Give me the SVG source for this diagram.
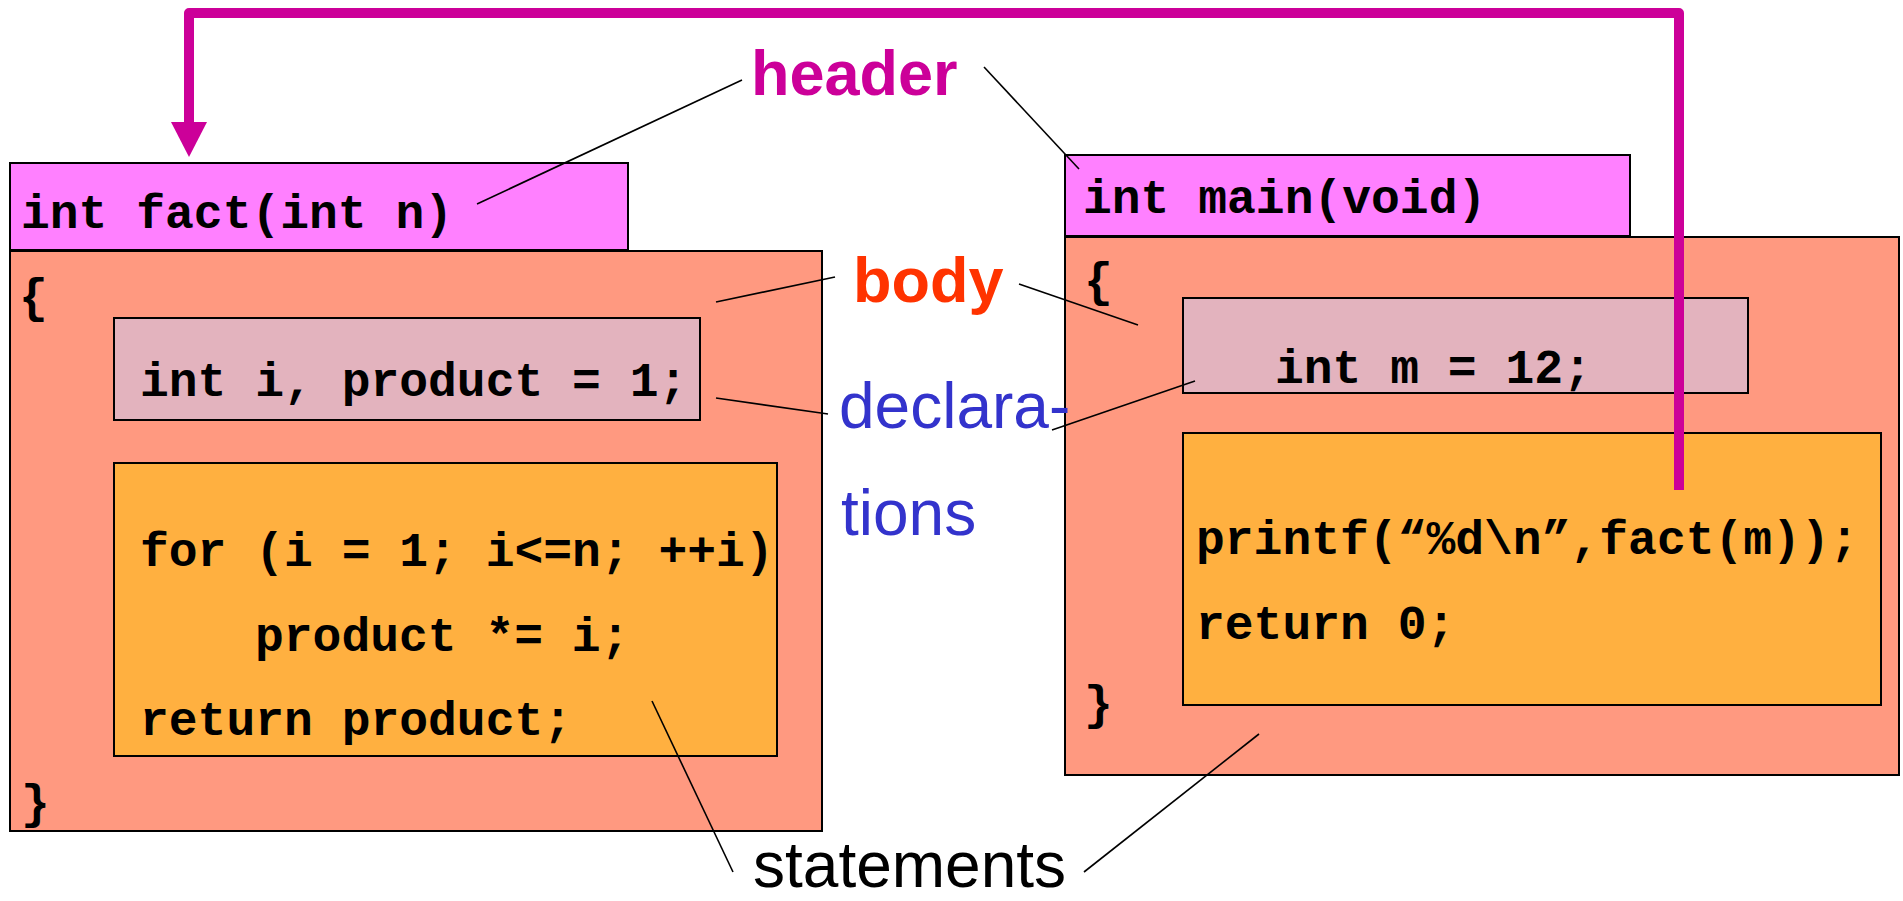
<svg xmlns="http://www.w3.org/2000/svg" width="1903" height="901" viewBox="0 0 1903 901">
  <style>
    .hdr { fill: #FF80FF; stroke: #000; stroke-width: 2; }
    .body { fill: #FF9980; stroke: #000; stroke-width: 2; }
    .decl { fill: #E3B3BE; stroke: #000; stroke-width: 2; }
    .stmt { fill: #FFB040; stroke: #000; stroke-width: 2; }
    .code { font-family: "Liberation Mono", "Courier New", monospace; font-weight: bold; font-size: 48px; fill: #000; white-space: pre; }
    .lbl { font-family: "Liberation Sans", Arial, sans-serif; font-size: 64px; }
    .lbl-b { font-family: "Liberation Sans", Arial, sans-serif; font-size: 63px; font-weight: bold; }
    .leader { stroke: #000; stroke-width: 1.6; fill: none; }
    .call { stroke: #CC0099; stroke-width: 10; fill: none; stroke-linejoin: round; }
  </style>

  <!-- function fact -->
  <g id="fact">
    <rect class="hdr" x="10" y="163" width="618" height="87"/>
    <text class="code" x="21" y="228">int fact(int n)</text>
    <rect class="body" x="10" y="251" width="812" height="580"/>
    <text class="code" x="19" y="312">{</text>
    <rect class="decl" x="114" y="318" width="586" height="102"/>
    <text class="code" x="140" y="396">int i, product = 1;</text>
    <rect class="stmt" x="114" y="463" width="663" height="293"/>
    <text class="code" x="140" y="566">for (i = 1; i&lt;=n; ++i)</text>
    <text class="code" x="255" y="651">product *= i;</text>
    <text class="code" x="140" y="735">return product;</text>
    <text class="code" x="21" y="818">}</text>
  </g>

  <!-- function main -->
  <g id="main">
    <rect class="hdr" x="1065" y="155" width="565" height="81"/>
    <text class="code" x="1083" y="213">int main(void)</text>
    <rect class="body" x="1065" y="237" width="834" height="538"/>
    <text class="code" x="1084" y="296">{</text>
    <rect class="decl" x="1183" y="298" width="565" height="95"/>
    <text class="code" x="1275" y="383">int m = 12;</text>
    <rect class="stmt" x="1183" y="433" width="698" height="272"/>
    <text class="code" x="1196" y="554">printf(“%d\n”,fact(m));</text>
    <text class="code" x="1196" y="639">return 0;</text>
    <text class="code" x="1084" y="719">}</text>
  </g>

  <!-- labels -->
  <g id="labels">
    <text class="lbl-b" x="751" y="95" fill="#CC0099">header</text>
    <text class="lbl-b" x="853" y="302" fill="#FF3300">body</text>
    <text class="lbl" x="839" y="428" fill="#3333CC">declara-</text>
    <text class="lbl" x="841" y="535" fill="#3333CC">tions</text>
    <text class="lbl" x="753" y="887" fill="#000">statements</text>
  </g>

  <!-- connectors -->
  <g id="connectors">
    <line class="leader" x1="742" y1="80" x2="477" y2="204"/>
    <line class="leader" x1="984" y1="67" x2="1079" y2="169"/>
    <line class="leader" x1="835" y1="277" x2="716" y2="302"/>
    <line class="leader" x1="1019" y1="284" x2="1138" y2="325"/>
    <line class="leader" x1="828" y1="414" x2="716" y2="398"/>
    <line class="leader" x1="1052" y1="430" x2="1195" y2="381"/>
    <line class="leader" x1="733" y1="872" x2="652" y2="701"/>
    <line class="leader" x1="1084" y1="872" x2="1259" y2="734"/>
    <!-- call from main back to fact -->
    <path class="call" d="M1679 490 V13 H189 V124"/>
    <polygon points="171,122 207,122 189,157" fill="#CC0099"/>
  </g>
</svg>
